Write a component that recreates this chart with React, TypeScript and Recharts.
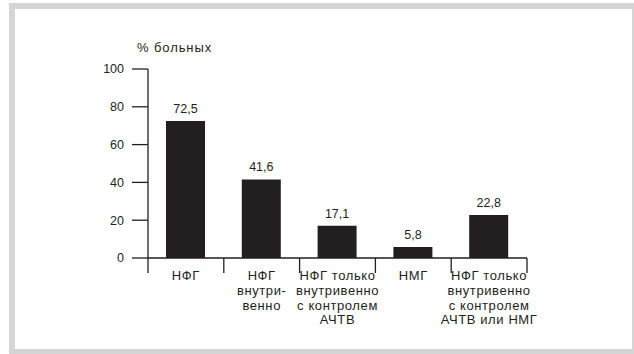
import { Bar, BarChart, LabelList, XAxis, YAxis } from 'recharts'

const categories = [
  'НФГ',
  'НФГ\nвнутри-\nвенно',
  'НФГ только\nвнутривенно\nс контролем\nАЧТВ',
  'НМГ',
  'НФГ только\nвнутривенно\nс контролем\nАЧТВ или НМГ',
]
const values = [72.5, 41.6, 17.1, 5.8, 22.8]
const yTicks = [0, 20, 40, 60, 80, 100]

const data = categories.map((name, i) => ({ name, value: values[i] }))

const INK = '#231f20'
const FONT = '"Liberation Sans", Arial, sans-serif'
const W = 634
const H = 354
const LEFT = 148
const RIGHT = 107
const BAND = (W - LEFT - RIGHT) / categories.length

/** Подпись категории + засечки на границах категорий. */
function CategoryTick(props: any) {
  const { x, y, payload, index } = props
  const lines = String(payload.value).split('\n')
  const left = x - BAND / 2
  return (
    <g>
      <line x1={left} x2={left} y1={y} y2={y + 15} stroke={INK} strokeWidth={1.3} />
      {index === categories.length - 1 && (
        <line x1={left + BAND} x2={left + BAND} y1={y} y2={y + 15} stroke={INK} strokeWidth={1.3} />
      )}
      <text
        x={x}
        y={y + 22}
        textAnchor="middle"
        fill={INK}
        fontSize={13}
        letterSpacing={0.6}
        fontFamily={FONT}
      >
        {lines.map((l, i) => (
          <tspan key={i} x={x} dy={i === 0 ? 0 : 14.8}>
            {l}
          </tspan>
        ))}
      </text>
    </g>
  )
}

function ValueLabel(props: any) {
  const { x, y, width, value } = props
  return (
    <text x={x + width / 2} y={y - 8} textAnchor="middle" fill={INK} fontSize={12.5} fontFamily={FONT}>
      {String(value).replace('.', ',')}
    </text>
  )
}

export default function App() {
  return (
    <div style={{ position: 'relative', width: W, height: H, overflow: 'hidden', background: '#fff', fontFamily: FONT }}>
      <style>{'body{margin:0}'}</style>
      <div style={{ position: 'absolute', left: 9, top: 3, right: 0, bottom: 0, background: '#d5d5d5' }} />
      <div style={{ position: 'absolute', left: 15, top: 9, right: 2, bottom: 5, background: '#fff' }} />
      <div
        style={{
          position: 'absolute',
          left: 137,
          top: 40,
          fontSize: 13,
          lineHeight: '15px',
          letterSpacing: 0.9,
          color: INK,
          whiteSpace: 'nowrap',
        }}
      >
        % больных
      </div>
      <div style={{ position: 'absolute', left: 0, top: 0 }}>
        <BarChart width={W} height={H} data={data} margin={{ top: 69, right: RIGHT, left: 0, bottom: 0 }}>
          <YAxis
            width={LEFT}
            domain={[0, 100]}
            ticks={yTicks}
            interval={0}
            tickSize={16}
            tickMargin={8}
            axisLine={{ stroke: INK, strokeWidth: 1.3 }}
            tickLine={{ stroke: INK, strokeWidth: 1.3 }}
            tick={{ fill: INK, fontSize: 12.5, fontFamily: FONT }}
          />
          <XAxis
            dataKey="name"
            height={96}
            interval={0}
            tickSize={0}
            tickMargin={0}
            tickLine={false}
            axisLine={{ stroke: INK, strokeWidth: 1.3 }}
            tick={<CategoryTick />}
          />
          <Bar dataKey="value" fill={INK} barSize={39} isAnimationActive={false}>
            <LabelList dataKey="value" content={<ValueLabel />} />
          </Bar>
        </BarChart>
      </div>
    </div>
  )
}
